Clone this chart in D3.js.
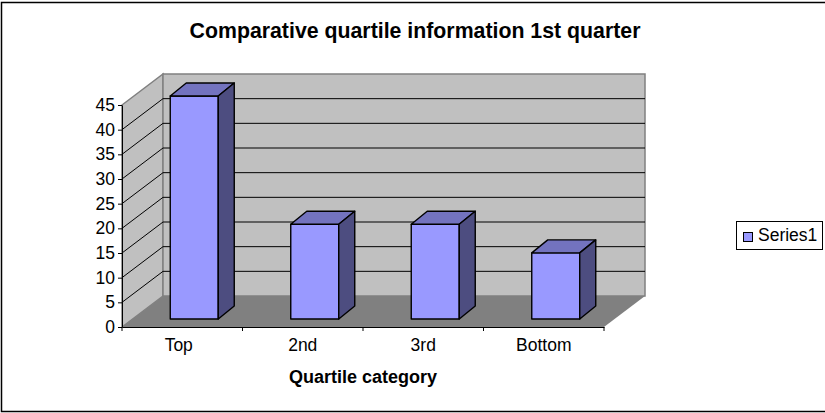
<!DOCTYPE html>
<html lang="en">

<head>
  <meta charset="utf-8">
  <script type="text/javascript" src="https://d3js.org/d3.v7.min.js"></script>
  <style>
    html, body { margin: 0; padding: 0; background: #fff; overflow: hidden; }
    svg { display: block; }
    text { font-family: "Liberation Sans", Arial, sans-serif; fill: #000; }
    .domain, .tick line { stroke: #000; }
  </style>
</head>

<body>
  <svg id="chart" width="825" height="413"></svg>

<script type="text/javascript">
  const categories = ['Top', '2nd', '3rd', 'Bottom'];
  const values = [45.2, 19.2, 19.2, 13.4];
  const yTicks = [0, 5, 10, 15, 20, 25, 30, 35, 40, 45];
  const seriesName = 'Series1';

  const svg = d3.select('#chart');

  // plot box of the front face, the walls are pushed back by depth
  const xScale = d3.scaleBand().domain(categories).range([122, 604]);
  const yScale = d3.scaleLinear().domain([0, 45]).range([327, 105]);
  const depth = { x: 41, y: -31 };
  const barDepth = { x: 16, y: -13 };
  const barOffset = { x: 12, y: -8 };
  const barWidth = 48;

  const x0 = xScale.range()[0], x1 = xScale.range()[1];
  const y0 = yScale(0), yTop = yScale(45);

  const poly = pts => pts.map(p => p.join(',')).join(' ');

  // outer frame, the right side is cropped off in the original
  svg.append('polyline')
    .attr('points', poly([[825, 2.5], [1.5, 2.5], [1.5, 411.5], [825, 411.5]]))
    .attr('fill', 'none')
    .attr('stroke', '#000')
    .attr('stroke-width', 1.5);

  svg.append('text')
    .attr('x', 415).attr('y', 38)
    .attr('text-anchor', 'middle')
    .attr('font-size', 21.3)
    .attr('font-weight', 'bold')
    .text('Comparative quartile information 1st quarter');

  // side wall
  svg.append('polygon')
    .attr('points', poly([[x0, yTop], [x0 + depth.x, yTop + depth.y], [x0 + depth.x, y0 + depth.y], [x0, y0]]))
    .attr('fill', '#c0c0c0')
    .attr('stroke', '#808080')
    .attr('stroke-width', 1.5);

  // back wall
  svg.append('rect')
    .attr('x', x0 + depth.x).attr('y', yTop + depth.y)
    .attr('width', x1 - x0).attr('height', y0 - yTop)
    .attr('fill', '#c0c0c0')
    .attr('stroke', '#808080')
    .attr('stroke-width', 1.5);

  // floor
  svg.append('polygon')
    .attr('points', poly([[x0, y0], [x0 + depth.x, y0 + depth.y], [x1 + depth.x, y0 + depth.y], [x1, y0]]))
    .attr('fill', '#808080');

  // gridlines run along the side wall then along the back wall
  const grid = yTicks.filter(d => d > 0 && d < 45);
  svg.append('g').selectAll('polyline')
    .data(grid)
    .join('polyline')
    .attr('points', d => poly([
      [x0, yScale(d)],
      [x0 + depth.x, yScale(d) + depth.y],
      [x1 + depth.x, yScale(d) + depth.y]
    ]))
    .attr('fill', 'none')
    .attr('stroke', '#000')
    .attr('stroke-width', 1);

  // bars
  const bars = svg.append('g').selectAll('g')
    .data(categories.map((c, i) => ({ c, v: values[i] })))
    .join('g')
    .attr('stroke', '#000')
    .attr('stroke-width', 1.4)
    .attr('stroke-linejoin', 'round');

  const barLeft = d => xScale(d.c) + xScale.bandwidth() / 2 + barOffset.x - barWidth / 2;
  const barBase = barOffset.y + y0;
  const barTop = d => yScale(d.v) + barOffset.y;

  bars.append('rect')
    .attr('x', barLeft)
    .attr('y', barTop)
    .attr('width', barWidth)
    .attr('height', d => barBase - barTop(d))
    .attr('fill', '#9999ff');

  bars.append('polygon')
    .attr('points', d => poly([
      [barLeft(d), barTop(d)],
      [barLeft(d) + barDepth.x, barTop(d) + barDepth.y],
      [barLeft(d) + barWidth + barDepth.x, barTop(d) + barDepth.y],
      [barLeft(d) + barWidth, barTop(d)]
    ]))
    .attr('fill', '#7373bf');

  bars.append('polygon')
    .attr('points', d => poly([
      [barLeft(d) + barWidth, barTop(d)],
      [barLeft(d) + barWidth + barDepth.x, barTop(d) + barDepth.y],
      [barLeft(d) + barWidth + barDepth.x, barBase + barDepth.y],
      [barLeft(d) + barWidth, barBase]
    ]))
    .attr('fill', '#4d4d80');

  // axes
  const yAxis = d3.axisLeft(yScale)
    .tickValues(yTicks)
    .tickSize(4)
    .tickPadding(3)
    .tickSizeOuter(0);

  svg.append('g')
    .attr('transform', `translate(${x0},0)`)
    .call(yAxis)
    .call(g => g.selectAll('text').attr('font-size', 17.5).attr('font-family', '"Liberation Sans"'));

  const xAxis = d3.axisBottom(xScale)
    .tickSize(0)
    .tickPadding(12)
    .tickSizeOuter(0);

  svg.append('g')
    .attr('transform', `translate(0,${y0})`)
    .call(xAxis)
    .call(g => g.selectAll('text')
      .attr('font-size', 17.5)
      .attr('font-family', '"Liberation Sans"')
      .attr('dx', d => d === 'Top' ? -3.5 : 0));  // first label sits a bit left in the original

  // x ticks sit between the categories
  svg.append('g').selectAll('line')
    .data(categories.concat(['end']))
    .join('line')
    .attr('x1', (d, i) => x0 + i * xScale.step())
    .attr('x2', (d, i) => x0 + i * xScale.step())
    .attr('y1', y0)
    .attr('y2', y0 + 4)
    .attr('stroke', '#000');

  svg.append('text')
    .attr('x', 363).attr('y', 383)
    .attr('text-anchor', 'middle')
    .attr('font-size', 18)
    .attr('font-weight', 'bold')
    .text('Quartile category');

  // legend
  const legend = svg.append('g');
  legend.append('rect')
    .attr('x', 736.5).attr('y', 221.5)
    .attr('width', 86).attr('height', 28)
    .attr('fill', '#fff')
    .attr('stroke', '#000');
  legend.append('rect')
    .attr('x', 743.5).attr('y', 232.5)
    .attr('width', 9).attr('height', 9)
    .attr('fill', '#9999ff')
    .attr('stroke', '#000');
  legend.append('text')
    .attr('x', 758).attr('y', 241)
    .attr('font-size', 17.5)
    .text(seriesName);
</script>
</body>

</html>
